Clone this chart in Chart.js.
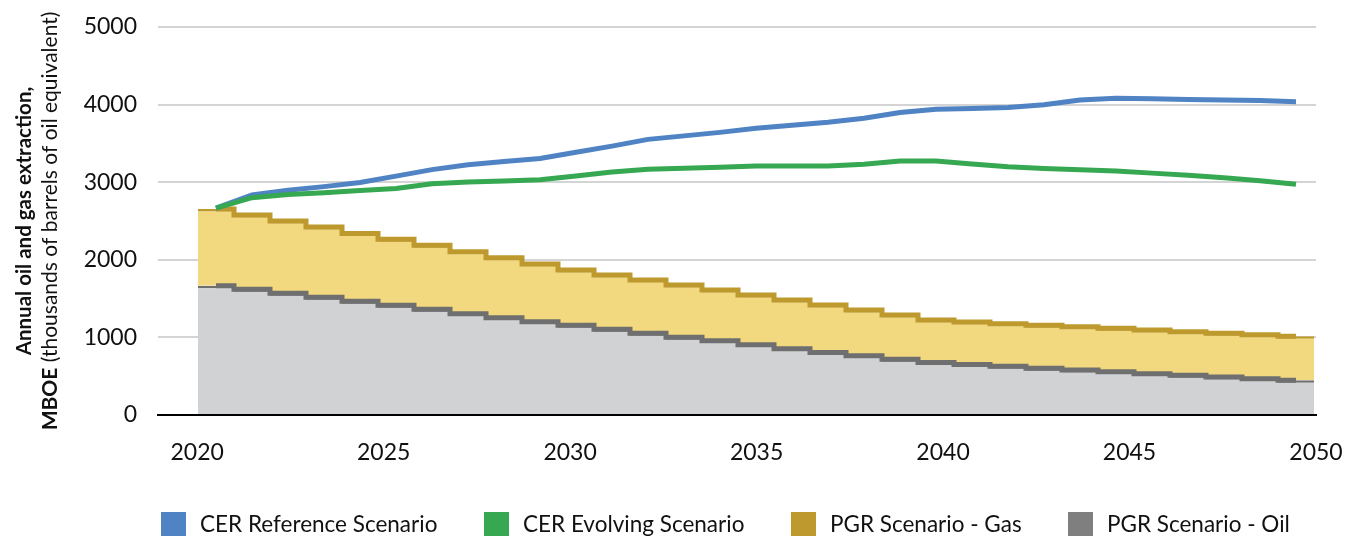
<!DOCTYPE html>
<html>
<head>
<meta charset="utf-8">
<script src="https://cdn.jsdelivr.net/npm/chart.js@4.4.0/dist/chart.umd.min.js"></script>
<style>
  html, body { margin: 0; padding: 0; background: #fff; }
  #wrap { position: relative; width: 1354px; height: 536px; overflow: hidden; }
  #legend { position: absolute; left: 0; top: 0; width: 1354px; height: 536px; font-family: Lato, sans-serif; font-size: 22.5px; color: #111; }
  .item { position: absolute; top: 512px; height: 24px; white-space: nowrap; }
  .box { position: absolute; left: 0; top: 0; width: 25px; height: 24px; }
  .txt { position: absolute; left: 39px; top: 1px; line-height: 22px; }
</style>
</head>
<body>
<div id="wrap">
  <canvas id="chart" width="1354" height="536"></canvas>
  <div id="legend"></div>
</div>
<script>
// annual values
const years = [2020, 2021, 2022, 2023, 2024, 2025, 2026, 2027, 2028, 2029, 2030,
  2031, 2032, 2033, 2034, 2035, 2036, 2037, 2038, 2039, 2040,
  2041, 2042, 2043, 2044, 2045, 2046, 2047, 2048, 2049, 2050];
const xTicks = [2020, 2025, 2030, 2035, 2040, 2045, 2050];
const yTicks = [0, 1000, 2000, 3000, 4000, 5000];

const cerReference = [2665, 2835, 2895, 2943, 2996, 3078, 3162, 3226, 3267, 3305, 3385,
  3465, 3552, 3597, 3642, 3694, 3733, 3773, 3824, 3897, 3939,
  3950, 3962, 3998, 4060, 4081, 4075, 4067, 4060, 4052, 4037];
const cerEvolving = [2665, 2800, 2840, 2865, 2894, 2920, 2979, 3004, 3015, 3032, 3079,
  3130, 3166, 3179, 3193, 3209, 3209, 3210, 3231, 3273, 3273,
  3236, 3199, 3178, 3161, 3144, 3117, 3090, 3057, 3020, 2973];
const pgrGas = [988, 957, 932, 906, 875, 850, 824, 798, 773, 744, 714,
  700, 688, 674, 654, 640, 628, 611, 589, 571, 546,
  546, 549, 551, 558, 561, 562, 563, 563, 567, 566];
const pgrOil = [1667, 1620, 1568, 1517, 1465, 1414, 1362, 1306, 1254, 1202, 1155,
  1104, 1052, 1001, 957, 906, 854, 807, 764, 718, 678,
  652, 628, 604, 580, 556, 533, 511, 489, 468, 448];

const seriesNames = ['CER Reference Scenario', 'CER Evolving Scenario', 'PGR Scenario - Gas', 'PGR Scenario - Oil'];
const seriesColors = ['#4F83C4', '#36A852', '#BD992E', '#7F7F80'];
const gasFill = '#F2D87F', gasLine = '#BE9A2E';
const oilFill = '#D1D2D4', oilLine = '#6F6F70';
const legendLeft = [161, 484, 791, 1068];

const titleLine1 = 'Annual oil and gas extraction,';
const titleLine2a = 'MBOE';
const titleLine2b = ' (thousands of barrels of oil equivalent)';

// rotated y axis title, two lines, second line mixes bold and regular
const yTitle = {
  id: 'yTitle',
  afterDraw(chart) {
    const ctx = chart.ctx;
    const cy = (chart.chartArea.top + chart.chartArea.bottom) / 2;
    const drawLine = (parts, x) => {
      let total = 0;
      parts.forEach(p => { ctx.font = p[1]; total += ctx.measureText(p[0]).width; });
      ctx.save();
      ctx.translate(x, cy);
      ctx.rotate(-Math.PI / 2);
      let pos = -total / 2;
      parts.forEach(p => {
        ctx.font = p[1];
        ctx.fillText(p[0], pos, 0);
        pos += ctx.measureText(p[0]).width;
      });
      ctx.restore();
    };
    ctx.save();
    ctx.fillStyle = '#111';
    ctx.textAlign = 'left';
    ctx.textBaseline = 'alphabetic';
    drawLine([[titleLine1, 'bold 20.5px Lato']], 30.5);
    drawLine([[titleLine2a, 'bold 21px Lato'], [titleLine2b, '21px Lato']], 56.5);
    ctx.restore();
  }
};

// bars give the yearly bands (fill), stepped lines give the outline on top
const bandBar = (label, data, order, bg, border) => ({
  type: 'bar', label, data, xAxisID: 'xPgr', stack: 'pgr', order,
  backgroundColor: bg, borderColor: border,
  borderWidth: { top: 2.5, right: 0, bottom: 0, left: 0 }, borderSkipped: false,
  barPercentage: 1, categoryPercentage: 1, inflateAmount: 0
});
const stepLine = (label, data, order, color) => ({
  type: 'line', label, data, xAxisID: 'xPgr', stack: 'pgrLine', order,
  borderColor: color, borderWidth: 5, stepped: 'middle', pointRadius: 0, fill: false
});

new Chart(document.getElementById('chart'), {
  type: 'bar',
  data: {
    labels: years,
    datasets: [
      {
        type: 'line', label: seriesNames[0], data: cerReference, xAxisID: 'xPgr', stack: 'ref', order: 1,
        borderColor: seriesColors[0], borderWidth: 5, pointRadius: 0, fill: false, tension: 0
      },
      {
        type: 'line', label: seriesNames[1], data: cerEvolving, xAxisID: 'xPgr', stack: 'evo', order: 0,
        borderColor: seriesColors[1], borderWidth: 5, pointRadius: 0, fill: false, tension: 0
      },
      bandBar(seriesNames[2], pgrGas, 5, gasFill, gasLine),
      bandBar(seriesNames[3], pgrOil, 4, oilFill, oilLine),
      stepLine(seriesNames[2], pgrGas, 3, gasLine),
      stepLine(seriesNames[3], pgrOil, 2, oilLine)
    ]
  },
  options: {
    responsive: false,
    devicePixelRatio: 1,
    animation: false,
    layout: { padding: { left: 0, right: 38, top: 27, bottom: 0 } },
    plugins: { legend: { display: false }, tooltip: { enabled: false }, title: { display: false } },
    scales: {
      x: {
        type: 'linear', position: 'bottom', min: 2018.95, max: 2050, z: 1, offset: false,
        afterBuildTicks: s => { s.ticks = xTicks.map(v => ({ value: v })); },
        afterFit: s => { s.height = 121; s.paddingLeft = 0; s.paddingRight = 0; },
        grid: { display: false, drawTicks: false, offset: false },
        border: { display: true, color: '#000', width: 2 },
        ticks: { padding: 24, color: '#111', font: { family: 'Lato', size: 23 }, callback: v => String(v), maxRotation: 0 }
      },
      // one band per year, 36 px wide, filling the plot from 198 to 1314
      xPgr: {
        type: 'linear', display: false, min: 2018.388889, max: 2050.555556, stacked: true, offset: false,
        grid: { offset: false },
        afterBuildTicks: s => { s.ticks = []; }
      },
      y: {
        type: 'linear', min: 0, max: 5000, stacked: true,
        afterBuildTicks: s => { s.ticks = yTicks.map(v => ({ value: v })); },
        afterFit: s => { s.width = 158; s.paddingTop = 0; s.paddingBottom = 0; },
        grid: { color: '#D4D4D4', lineWidth: 2, drawTicks: false },
        border: { display: false },
        ticks: { padding: 21, color: '#111', font: { family: 'Lato', size: 23 }, callback: v => String(v) }
      }
    }
  },
  plugins: [yTitle]
});

// legend below the plot
const legend = document.getElementById('legend');
seriesNames.forEach((name, i) => {
  const item = document.createElement('div');
  item.className = 'item';
  item.style.left = legendLeft[i] + 'px';
  item.innerHTML = '<div class="box" style="background:' + seriesColors[i] + '"></div><span class="txt">' + name + '</span>';
  legend.appendChild(item);
});
</script>
</body>
</html>
